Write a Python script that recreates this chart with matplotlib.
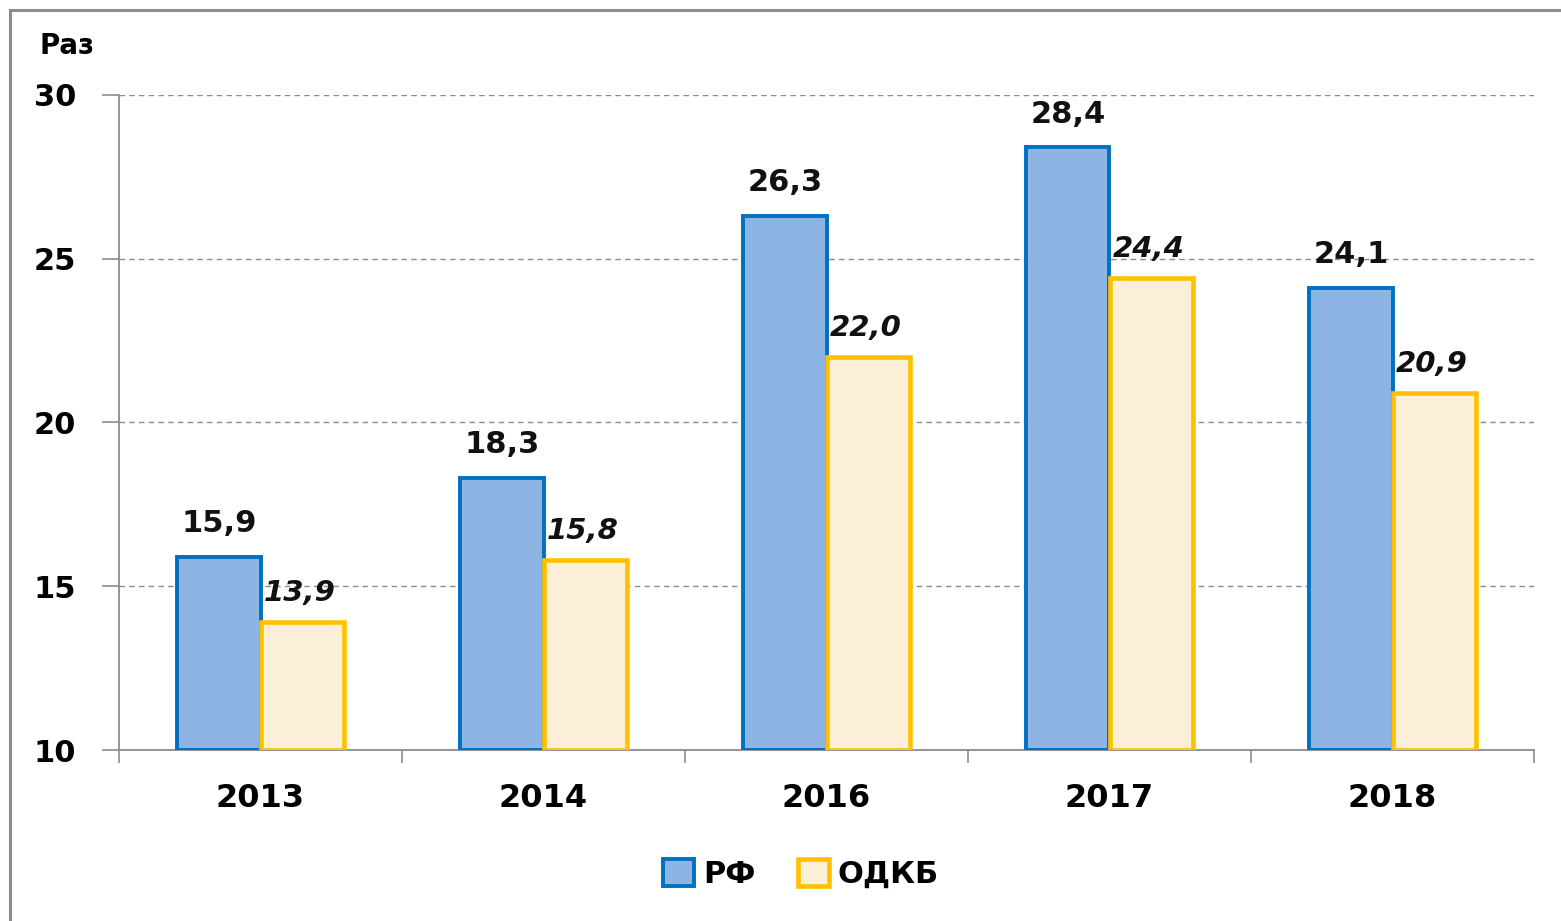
import matplotlib
matplotlib.use("Agg")
import matplotlib.pyplot as plt
import numpy as np
from matplotlib.patches import Rectangle

years = ["2013", "2014", "2016", "2017", "2018"]
rf = [15.9, 18.3, 26.3, 28.4, 24.1]
odkb = [13.9, 15.8, 22.0, 24.4, 20.9]
rf_labels = ["15,9", "18,3", "26,3", "28,4", "24,1"]
odkb_labels = ["13,9", "15,8", "22,0", "24,4", "20,9"]
yticks = [10, 15, 20, 25, 30]

plt.rcParams['font.family'] = ['DejaVu Sans']

fig = plt.figure(figsize=(15.61, 9.21), dpi=100)
W, H = 1561, 921
ax = fig.add_axes([119 / W, 1 - 750 / H, (1534 - 119) / W, (750 - 95) / H])

# outer frame
fig.patches.append(Rectangle((10 / W, -0.05), 1.2, 1 - 10 / H + 0.05, transform=fig.transFigure,
                             fill=False, edgecolor="#8c8c8c", linewidth=2.2, zorder=0))

x = np.arange(len(years))
bw = 0.295
ax.bar(x - bw / 2, [v - 10 for v in rf], bottom=10, width=bw, color="#8EB4E3",
       edgecolor="#0070C0", linewidth=2.8, zorder=3, label="РФ")
ax.bar(x + bw / 2, [v - 10 for v in odkb], bottom=10, width=bw, color="#FCEFD8",
       edgecolor="#FFC000", linewidth=3.3, zorder=3, label="ОДКБ")

for i in range(len(years)):
    ax.text(x[i] - bw / 2, rf[i] + 0.76, rf_labels[i], ha="center", va="baseline",
            fontsize=22, fontweight="bold", color="#111111")
    ax.text(x[i] + bw / 2 - 0.01, odkb[i] + 0.64, odkb_labels[i], ha="center", va="baseline",
            fontsize=21, fontweight="bold", fontstyle="italic", color="#111111")

ax.set_xlim(-0.5, len(years) - 0.5)
ax.set_ylim(10, 30)
ax.set_yticks(yticks)
ax.set_yticklabels([str(t) for t in yticks], fontsize=22, fontweight="bold")
ax.yaxis.grid(True, linestyle=(0, (4, 3)), color="#8c8c8c", linewidth=1.0, zorder=0)
ax.set_axisbelow(True)

ax.set_xticks(x)
ax.set_xticklabels(years, fontsize=23, fontweight="bold")
ax.set_xticks(np.arange(-0.5, len(years)), minor=True)
ax.tick_params(axis="x", which="major", length=0, pad=24)
ax.tick_params(axis="x", which="minor", length=9, color="#8c8c8c", width=1.2)
ax.tick_params(axis="y", length=12, color="#8c8c8c", width=1.2, pad=19)

for s in ["top", "right"]:
    ax.spines[s].set_visible(False)
for s in ["left", "bottom"]:
    ax.spines[s].set_color("#8c8c8c")
    ax.spines[s].set_linewidth(1.3)

fig.text(40 / W, 1 - 46 / H, "Раз", fontsize=20, fontweight="bold", va="center", ha="left")

leg = fig.legend(loc="center", bbox_to_anchor=(801 / W, 1 - 874 / H), ncol=2, frameon=False,
                 prop={"size": 22, "weight": "bold"}, handlelength=1.0, handleheight=1.0,
                 handletextpad=0.3, columnspacing=1.4)

fig.savefig("out.png", dpi=100)
